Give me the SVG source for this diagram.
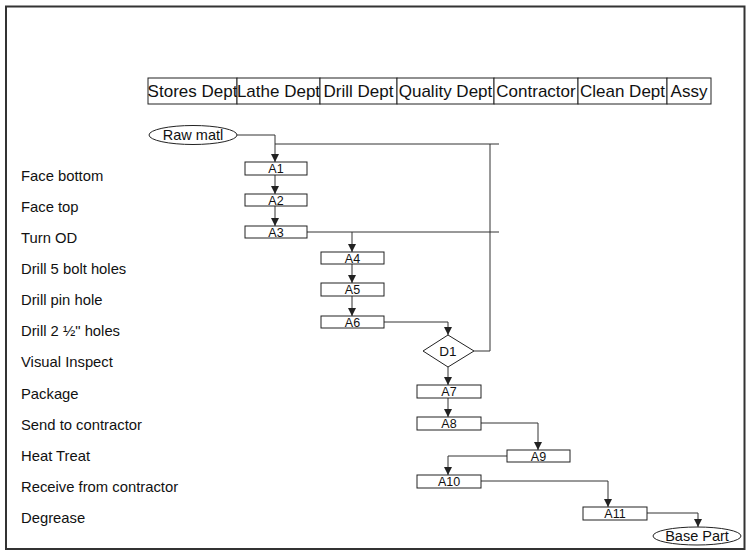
<svg xmlns="http://www.w3.org/2000/svg" width="749" height="553" viewBox="0 0 749 553">
<style>
text{font-family:"Liberation Sans",Arial,sans-serif;fill:#111}
.hdr rect{fill:#fff;stroke:#222;stroke-width:1}
.hdr text{font-size:17px;text-anchor:middle}
.lbl{font-size:14.8px}
.box rect{fill:#fff;stroke:#222;stroke-width:1}
.box text{font-size:12.5px;text-anchor:middle}
.term ellipse{fill:#fff;stroke:#222;stroke-width:1}
.term text{font-size:14.5px;text-anchor:middle}
.conn path{fill:none;stroke:#333;stroke-width:1}
</style>
<defs>
<marker id="ah" markerUnits="userSpaceOnUse" markerWidth="8" markerHeight="9" refX="8" refY="4" orient="auto">
<path d="M0,0 L8,4 L0,8 z" fill="#222"/>
</marker>
</defs>
<rect x="6" y="6.5" width="738.5" height="542.5" fill="#fff" stroke="#333" stroke-width="2"/>

<g id="header" class="hdr">
<rect x="148" y="78" width="89" height="26"/><text x="192.5" y="97">Stores Dept</text>
<rect x="237" y="78" width="83" height="26"/><text x="278.5" y="97">Lathe Dept</text>
<rect x="320" y="78" width="77" height="26"/><text x="358.5" y="97">Drill Dept</text>
<rect x="397" y="78" width="97" height="26"/><text x="445.5" y="97">Quality Dept</text>
<rect x="494" y="78" width="84" height="26"/><text x="536" y="97">Contractor</text>
<rect x="578" y="78" width="89" height="26"/><text x="622.5" y="97">Clean Dept</text>
<rect x="667" y="78" width="44" height="26"/><text x="689" y="97">Assy</text>
</g>

<g id="labels" class="lbl">
<text x="21" y="181">Face bottom</text>
<text x="21" y="212">Face top</text>
<text x="21" y="243">Turn OD</text>
<text x="21" y="274">Drill 5 bolt holes</text>
<text x="21" y="305">Drill pin hole</text>
<text x="21" y="336">Drill 2 ½" holes</text>
<text x="21" y="367">Visual Inspect</text>
<text x="21" y="399">Package</text>
<text x="21" y="430">Send to contractor</text>
<text x="21" y="461">Heat Treat</text>
<text x="21" y="492">Receive from contractor</text>
<text x="21" y="523">Degrease</text>
</g>

<g id="connectors" class="conn">
<path d="M237,135 H275 V162" marker-end="url(#ah)"/>
<path d="M275,144 H499"/>
<path d="M474,351 H490 V144"/>
<path d="M275,175 V194" marker-end="url(#ah)"/>
<path d="M275,206 V226" marker-end="url(#ah)"/>
<path d="M307,232 H499"/>
<path d="M352,232 V252" marker-end="url(#ah)"/>
<path d="M352,264 V283" marker-end="url(#ah)"/>
<path d="M352,296 V316" marker-end="url(#ah)"/>
<path d="M384,322 H448 V335" marker-end="url(#ah)"/>
<path d="M448,367 V385" marker-end="url(#ah)"/>
<path d="M448,398 V417" marker-end="url(#ah)"/>
<path d="M481,423 H538 V450" marker-end="url(#ah)"/>
<path d="M507,456 H448 V475" marker-end="url(#ah)"/>
<path d="M481,481 H608 V507" marker-end="url(#ah)"/>
<path d="M647,513 H698 V527" marker-end="url(#ah)"/>
</g>

<g id="raw" class="term"><ellipse cx="193" cy="135" rx="44" ry="9.5"/><text x="193" y="140">Raw matl</text></g>
<g id="A1" class="box"><rect x="245" y="162" width="62" height="13"/><text x="276" y="173">A1</text></g>
<g id="A2" class="box"><rect x="245" y="194" width="62" height="12"/><text x="276" y="204.5">A2</text></g>
<g id="A3" class="box"><rect x="245" y="226" width="62" height="12"/><text x="276" y="236.5">A3</text></g>
<g id="A4" class="box"><rect x="321" y="252" width="63" height="12"/><text x="352.5" y="262.5">A4</text></g>
<g id="A5" class="box"><rect x="321" y="283" width="63" height="13"/><text x="352.5" y="294">A5</text></g>
<g id="A6" class="box"><rect x="321" y="316" width="63" height="12"/><text x="352.5" y="326.5">A6</text></g>
<g id="D1" class="box"><path d="M448,335 L474,351 L448,367 L423,351 Z" fill="#fff" stroke="#222"/><text x="448" y="356" style="font-size:13.5px">D1</text></g>
<g id="A7" class="box"><rect x="417" y="385" width="64" height="13"/><text x="449" y="396">A7</text></g>
<g id="A8" class="box"><rect x="417" y="417" width="64" height="13"/><text x="449" y="428">A8</text></g>
<g id="A9" class="box"><rect x="507" y="450" width="63" height="12"/><text x="538.5" y="460.5">A9</text></g>
<g id="A10" class="box"><rect x="417" y="475" width="64" height="13"/><text x="449" y="486">A10</text></g>
<g id="A11" class="box"><rect x="583" y="507" width="64" height="13"/><text x="615" y="518">A11</text></g>
<g id="base" class="term"><ellipse cx="697" cy="536" rx="44" ry="9"/><text x="697" y="541">Base Part</text></g>
</svg>
